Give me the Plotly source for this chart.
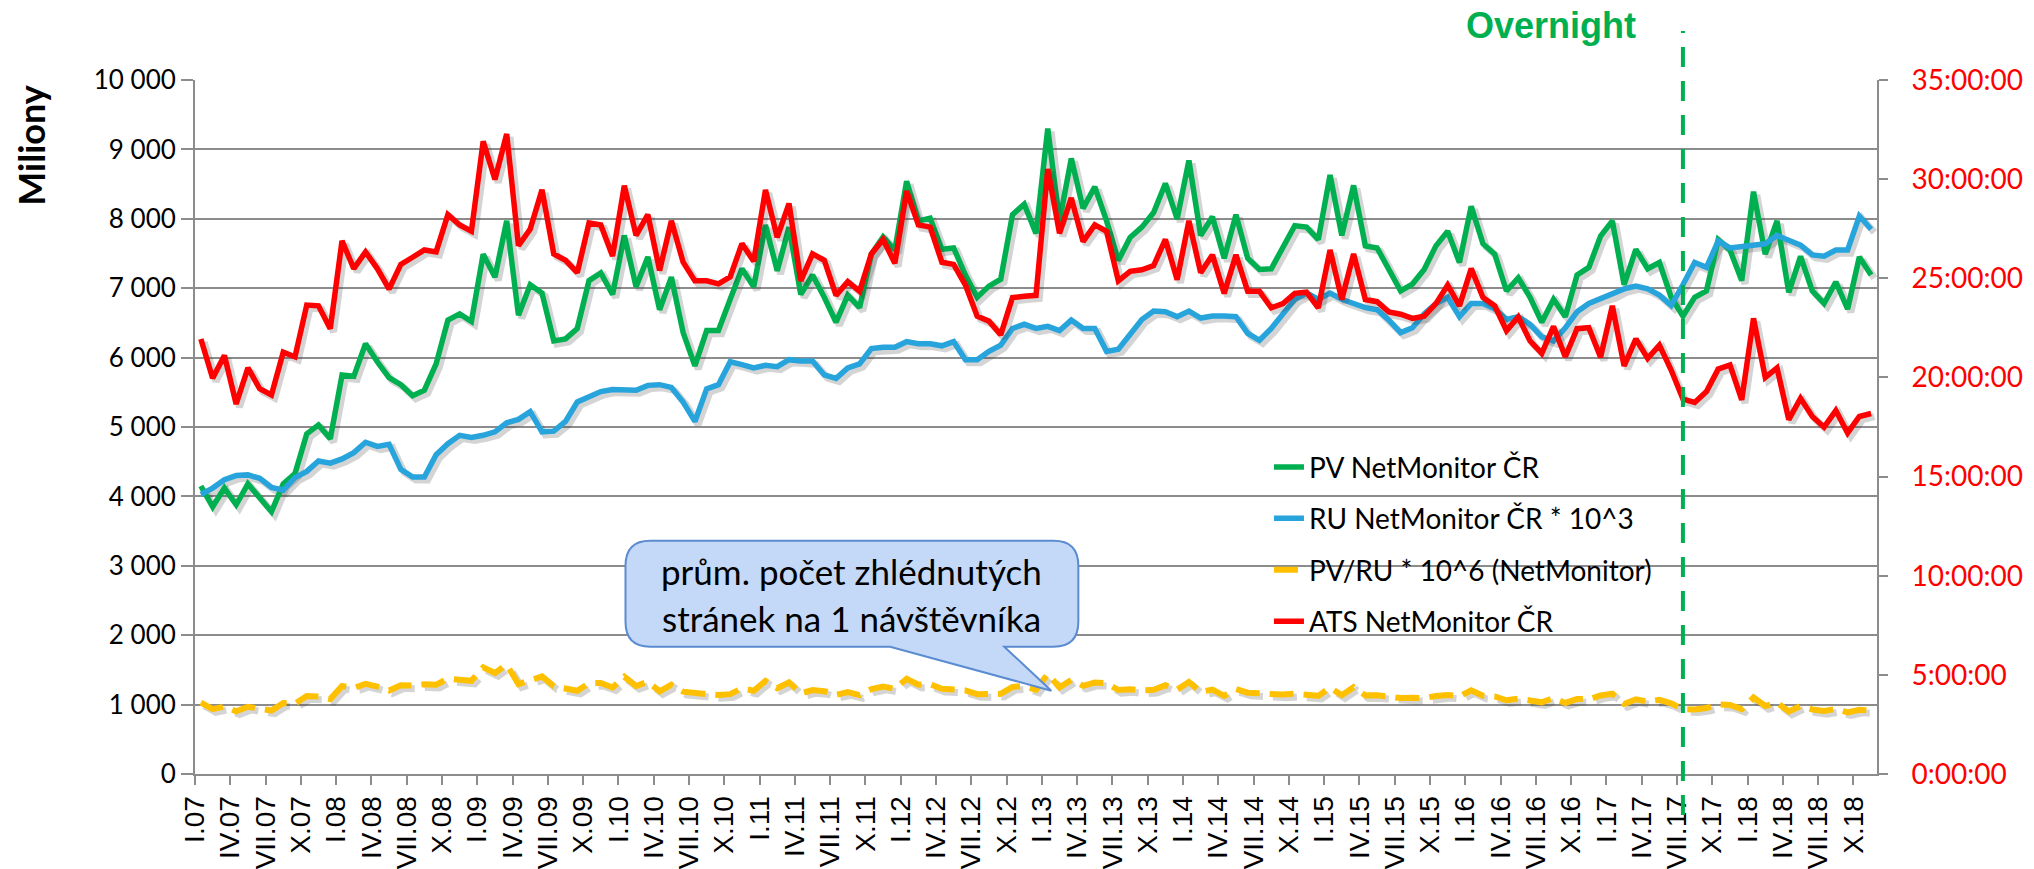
import plotly.graph_objects as go

# ---------------- data (monthly, Jan 2007 .. Nov 2018) ----------------
months = list(range(143))

tick_labels = [f"{q}.{y:02d}" for y in range(7, 19) for q in ["I", "IV", "VII", "X"]]

pv = [4150, 3850, 4120, 3880, 4180, 3970, 3780, 4180, 4330, 4900, 5030, 4830,
      5750, 5730, 6200, 5940, 5710, 5610, 5450, 5530, 5910, 6540, 6630, 6520,
      7490, 7160, 7970, 6610, 7050, 6930, 6240, 6270, 6420, 7110, 7220, 6910,
      7760, 7020, 7450, 6690, 7160, 6360, 5880, 6390, 6390, 6840, 7280, 7020,
      7910, 7250, 7880, 6910, 7190, 6870, 6510, 6900, 6720, 7490, 7740, 7550,
      8540, 7970, 8010, 7560, 7580, 7190, 6870, 7030, 7130, 8060, 8210, 7790,
      9300, 7970, 8870, 8150, 8460, 7970, 7400, 7730, 7880, 8090, 8510, 8000,
      8840, 7760, 8030, 7430, 8060, 7430, 7270, 7280, 7580, 7900, 7880, 7700,
      8630, 7760, 8480, 7610, 7580, 7280, 6960, 7060, 7270, 7610, 7820, 7370,
      8180, 7640, 7490, 6960, 7150, 6870, 6510, 6840, 6590, 7190, 7300, 7750,
      7970, 7050, 7560, 7280, 7370, 6870, 6600, 6870, 6960, 7700, 7550, 7110,
      8390, 7490, 7970, 6940, 7460, 6960, 6780, 7090, 6700, 7450, 7190]

ru = [4030, 4120, 4240, 4300, 4310, 4260, 4130, 4090, 4270, 4360, 4510, 4480,
      4540, 4630, 4780, 4720, 4750, 4390, 4280, 4280, 4600, 4760, 4880, 4850,
      4880, 4930, 5060, 5110, 5220, 4930, 4940, 5080, 5360, 5430, 5510, 5540,
      5540, 5530, 5600, 5610, 5570, 5360, 5080, 5550, 5610, 5940, 5900, 5850,
      5890, 5870, 5970, 5950, 5950, 5750, 5700, 5850, 5910, 6130, 6150, 6150,
      6230, 6200, 6200, 6170, 6230, 5970, 5970, 6090, 6180, 6420, 6480, 6420,
      6450, 6390, 6540, 6420, 6420, 6090, 6120, 6330, 6550, 6670, 6660, 6590,
      6670, 6570, 6600, 6600, 6590, 6350, 6250, 6420, 6630, 6840, 6930, 6840,
      6930, 6840, 6780, 6720, 6690, 6540, 6360, 6430, 6630, 6780, 6870, 6590,
      6780, 6780, 6700, 6550, 6590, 6480, 6300, 6240, 6430, 6660, 6780, 6850,
      6900, 6990, 7030, 6990, 6900, 6750, 7050, 7370, 7300, 7680, 7580, 7600,
      7610, 7640, 7760, 7700, 7620, 7480, 7460, 7550, 7550, 8040, 7850]

pv_ru = [1030, 935, 972, 903, 969, 933, 915, 1022, 1014, 1123, 1116, 1079,
         1267, 1239, 1298, 1259, 1204, 1279, 1273, 1293, 1286, 1374, 1359, 1343,
         1536, 1455, 1576, 1295, 1349, 1406, 1264, 1235, 1199, 1308, 1311, 1247,
         1401, 1268, 1329, 1192, 1286, 1187, 1159, 1151, 1138, 1151, 1235, 1199,
         1342, 1236, 1320, 1161, 1209, 1194, 1141, 1179, 1136, 1222, 1259, 1228,
         1371, 1286, 1293, 1227, 1218, 1205, 1150, 1154, 1155, 1256, 1267, 1214,
         1442, 1248, 1356, 1270, 1318, 1309, 1210, 1222, 1203, 1213, 1278, 1215,
         1325, 1182, 1217, 1127, 1224, 1171, 1162, 1135, 1144, 1156, 1138, 1126,
         1246, 1135, 1251, 1133, 1134, 1114, 1094, 1098, 1096, 1123, 1139, 1120,
         1207, 1128, 1118, 1062, 1085, 1060, 1033, 1096, 1024, 1081, 1077, 1131,
         1156, 1009, 1076, 1043, 1069, 1018, 936, 931, 952, 1002, 996, 935,
         1102, 980, 1027, 901, 979, 930, 908, 938, 888, 926, 916]

# ATS in hours (right axis)
ats = [21.94, 19.96, 21.11, 18.66, 20.48, 19.43, 19.12, 21.27, 21.04, 23.65, 23.61, 22.46,
       26.89, 25.49, 26.33, 25.49, 24.45, 25.70, 26.06, 26.43, 26.33, 28.21, 27.69, 27.37,
       31.91, 29.98, 32.28, 26.64, 27.48, 29.46, 26.23, 25.91, 25.28, 27.79, 27.69, 26.12,
       29.67, 27.16, 28.21, 25.39, 27.90, 25.81, 24.87, 24.87, 24.72, 25.07, 26.75, 25.86,
       29.46, 27.06, 28.77, 24.87, 26.23, 25.91, 24.14, 24.83, 24.34, 26.23, 26.96, 25.76,
       29.40, 27.69, 27.58, 25.81, 25.70, 24.66, 23.09, 22.84, 22.15, 24.03, 24.09, 24.14,
       30.51, 27.27, 29.05, 26.85, 27.69, 27.37, 24.87, 25.35, 25.43, 25.64, 26.96, 24.93,
       27.90, 25.28, 26.18, 24.24, 26.18, 24.34, 24.34, 23.51, 23.72, 24.24, 24.30, 23.51,
       26.43, 23.93, 26.23, 23.93, 23.82, 23.30, 23.19, 22.98, 23.09, 23.72, 24.66, 23.61,
       25.49, 24.03, 23.61, 22.36, 23.05, 21.84, 21.21, 22.57, 21.04, 22.46, 22.51, 21.02,
       23.61, 20.58, 21.94, 20.96, 21.63, 20.37, 18.91, 18.74, 19.29, 20.42, 20.63, 18.87,
       22.98, 20.00, 20.48, 17.87, 18.95, 18.03, 17.49, 18.33, 17.20, 18.03, 18.18]

left_ticks = list(range(0, 10001, 1000))
left_tick_text = ["0", "1 000", "2 000", "3 000", "4 000", "5 000", "6 000",
                  "7 000", "8 000", "9 000", "10 000"]
right_ticks = [0, 5, 10, 15, 20, 25, 30, 35]
right_tick_text = ["0:00:00", "5:00:00", "10:00:00", "15:00:00", "20:00:00",
                   "25:00:00", "30:00:00", "35:00:00"]

overnight_month = 126  # VII.17

names = ["PV NetMonitor ČR", "RU NetMonitor ČR * 10^3",
         "PV/RU * 10^6 (NetMonitor)", "ATS NetMonitor ČR"]

# ---------------- figure ----------------
GREEN = "#00b050"
BLUE = "#27a4dc"
YELLOW = "#ffc000"
RED = "#ff0000"
GRID = "#8c8c8c"
SHADOW = "rgba(60,60,60,0.22)"
FONT = "Lato"

# soft drop shadow: same series drawn a few pixels lower-right
dx, dy_left, dy_right = 0.28, 45, 0.16
sx = [m + dx for m in months]

fig = go.Figure()
for series in (pv, ru):
    fig.add_trace(go.Scatter(x=sx, y=[v - dy_left for v in series], mode="lines",
                             showlegend=False, hoverinfo="skip",
                             line=dict(color=SHADOW, width=7)))
fig.add_trace(go.Scatter(x=sx, y=[v - dy_left for v in pv_ru], mode="lines",
                         showlegend=False, hoverinfo="skip",
                         line=dict(color=SHADOW, width=7, dash="24px,10px")))

fig.add_trace(go.Scatter(x=months, y=pv, mode="lines", name=names[0], legendgroup="a",
                         line=dict(color=GREEN, width=5.5)))
fig.add_trace(go.Scatter(x=months, y=ru, mode="lines", name=names[1], legendgroup="b",
                         line=dict(color=BLUE, width=5.5)))
fig.add_trace(go.Scatter(x=months, y=pv_ru, mode="lines", name=names[2], legendgroup="c",
                         line=dict(color=YELLOW, width=6, dash="24px,10px")))
fig.add_trace(go.Scatter(x=sx, y=[v - dy_right for v in ats], mode="lines",
                         showlegend=False, hoverinfo="skip", yaxis="y2",
                         line=dict(color=SHADOW, width=7)))
fig.add_trace(go.Scatter(x=months, y=ats, mode="lines", name=names[3], legendgroup="d",
                         yaxis="y2", line=dict(color=RED, width=5.5)))

fig.update_layout(
    width=2034, height=869,
    margin=dict(l=195, r=157, t=80, b=95),
    paper_bgcolor="white", plot_bgcolor="white",
    font=dict(family=FONT, size=28, color="black"),
    showlegend=True,
    legend=dict(x=0.6385, y=0.478, xanchor="left", yanchor="top",
                bgcolor="rgba(0,0,0,0)", font=dict(family=FONT, size=28),
                tracegroupgap=12, traceorder="grouped"),
    xaxis=dict(range=[-0.5, 142.5], automargin=False,
               tickmode="array",
               tickvals=[i - 0.5 for i in range(0, 142, 3)],
               ticktext=tick_labels,
               tickangle=-90,
               tickfont=dict(family="Liberation Sans", size=28, color="black"),
               ticks="outside", ticklen=9, tickwidth=2, tickcolor=GRID,
               showline=True, linecolor=GRID, linewidth=2,
               showgrid=False, zeroline=False),
    yaxis=dict(range=[0, 10000], automargin=False,
               tickmode="array", tickvals=left_ticks, ticktext=left_tick_text,
               tickfont=dict(family=FONT, size=26, color="black"),
               ticks="outside", ticklen=12, tickwidth=2, tickcolor=GRID,
               ticklabelstandoff=0,
               showline=True, linecolor=GRID, linewidth=2,
               showgrid=True, gridcolor=GRID, gridwidth=2, zeroline=False),
    yaxis2=dict(range=[0, 35], overlaying="y", side="right", automargin=False,
                tickmode="array", tickvals=right_ticks, ticktext=right_tick_text,
                tickfont=dict(family=FONT, size=28, color=RED),
                ticks="outside", ticklen=9, tickwidth=2, tickcolor=GRID,
                ticklabelstandoff=18,
                showline=True, linecolor=GRID, linewidth=2,
                showgrid=False, zeroline=False),
)

# "Miliony" axis title
fig.add_annotation(text="<b>Miliony</b>", xref="paper", yref="paper",
                   x=-0.098, y=0.9056, xanchor="center", yanchor="middle",
                   textangle=-90, showarrow=False,
                   font=dict(family=FONT, size=36, color="black"))

# Overnight marker
fig.add_shape(type="line", xref="x", yref="paper", x0=overnight_month, x1=overnight_month,
              y0=-0.059, y1=1.0706, layer="above",
              line=dict(color=GREEN, width=4, dash="20px,14px"))
fig.add_annotation(text="<b>Overnight</b>", xref="x", yref="paper",
                   x=114.8, y=1.0785, xanchor="center", yanchor="middle", showarrow=False,
                   font=dict(family="Liberation Sans", size=36, color=GREEN))

# Callout box
L, R, T, B = 36.1, 74.6, 3362, 1834
rx, ry = 2.1, 360
tip_x, tip_y = 72.3, 1200
b1, b2 = 58.6, 68.3
path = (f"M {L+rx},{T} L {R-rx},{T} Q {R},{T} {R},{T-ry} L {R},{B+ry} Q {R},{B} {R-rx},{B} "
        f"L {b2},{B} L {tip_x},{tip_y} L {b1},{B} L {L+rx},{B} Q {L},{B} {L},{B+ry} "
        f"L {L},{T-ry} Q {L},{T} {L+rx},{T} Z")
fig.add_shape(type="path", path=path, xref="x", yref="y", layer="above",
              fillcolor="#c4d9f8", line=dict(color="#5b8bd0", width=2))
fig.add_annotation(text="prům. počet zhlédnutých", xref="x", yref="y",
                   x=(L + R) / 2, y=2920, showarrow=False,
                   font=dict(family=FONT, size=35, color="black"))
fig.add_annotation(text="stránek na 1 návštěvníka", xref="x", yref="y",
                   x=(L + R) / 2, y=2250, showarrow=False,
                   font=dict(family=FONT, size=35, color="black"))

fig.write_html("out.html", config={"displayModeBar": False},
               post_script="document.body.style.margin='0';")
